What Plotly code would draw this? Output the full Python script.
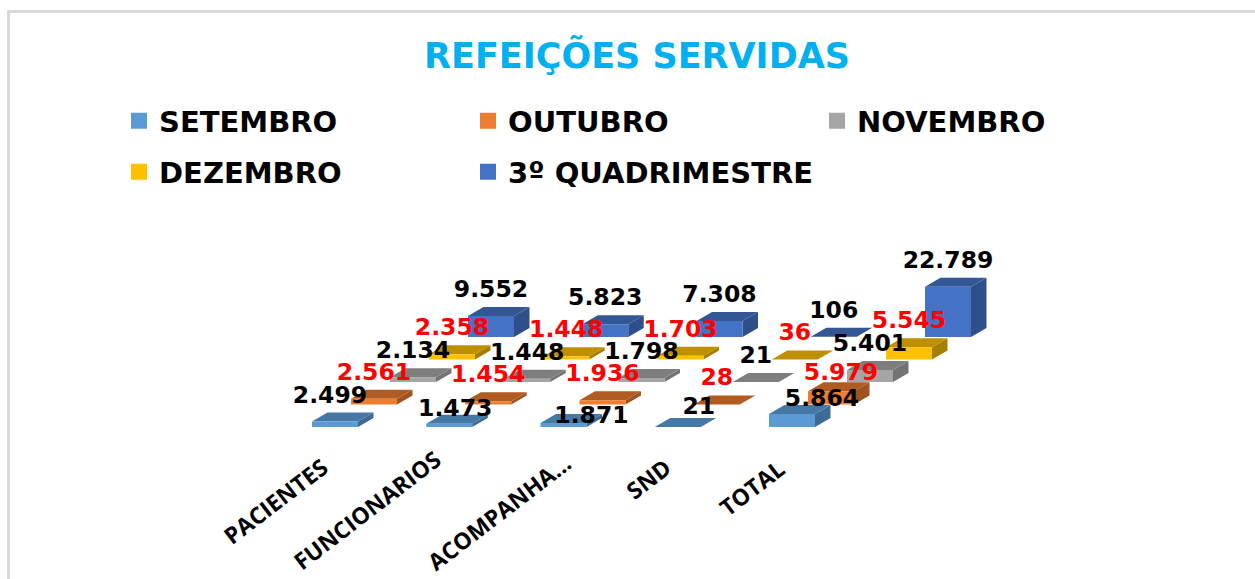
import math
import plotly.graph_objects as go

CATEGORIES = ["PACIENTES", "FUNCIONARIOS", "ACOMPANHA...", "SND", "TOTAL"]
SERIES = ["SETEMBRO", "OUTUBRO", "NOVEMBRO", "DEZEMBRO", "3º QUADRIMESTRE"]
SETEMBRO = [2499, 1473, 1871, 21, 5864]
OUTUBRO = [2561, 1454, 1936, 28, 5979]
NOVEMBRO = [2134, 1448, 1798, 21, 5401]
DEZEMBRO = [2358, 1448, 1703, 36, 5545]
QUADRIMESTRE = [9552, 5823, 7308, 106, 22789]
VALUES = [SETEMBRO, OUTUBRO, NOVEMBRO, DEZEMBRO, QUADRIMESTRE]

FRONT = ["#5B9BD5", "#ED7D31", "#A5A5A5", "#FFC000", "#4472C4"]
TOP = ["#4678A5", "#B05B22", "#7E7E7E", "#BE9000", "#335694"]
SIDE = ["#3C6A93", "#A0531E", "#737373", "#A67E00", "#2F4F8A"]
LABEL_COLOR = ["#000000", "#FF0000", "#000000", "#FF0000", "#000000"]

W, H = 1255, 579
PX_PER_CAT = 114.25
PX_PER_VALUE = 0.0022
ORIGIN_X, ORIGIN_Y = 335, 427
STEP_X, STEP_Y = 39 / PX_PER_CAT, 22.5 / PX_PER_VALUE
BAR_W = 46 / PX_PER_CAT
DEPTH_X, DEPTH_Y = 15.5 / PX_PER_CAT, 9 / PX_PER_VALUE

# label shifts in px from the top centre of the bar's front face (default 0, 25)
LABEL_SHIFT = {(0, 0): (-5, 24), (0, 1): (6, 14), (0, 2): (28, 6), (0, 3): (21, 19),
               (0, 4): (30, 14), (1, 4): (10, 17)}

CAT_LABEL_LEN = [135, 193, 185, 58, 92]
CAT_LABEL_END = [(-6, -33), (-6, -24), (9, -29), (-7, -34), (-4, -33)]
ANGLE = 37.5


def face_traces(s):
    vals = VALUES[s]
    fx, fy, tx, ty, sx, sy = [], [], [], [], [], []
    for i, v in enumerate(vals):
        x0 = i + s * STEP_X - BAR_W / 2
        x1 = x0 + BAR_W
        y0 = s * STEP_Y
        y1 = y0 + v
        fx += [x0, x1, x1, x0, x0, None]
        fy += [y0, y0, y1, y1, y0, None]
        tx += [x0, x1, x1 + DEPTH_X, x0 + DEPTH_X, x0, None]
        ty += [y1, y1, y1 + DEPTH_Y, y1 + DEPTH_Y, y1, None]
        sx += [x1, x1 + DEPTH_X, x1 + DEPTH_X, x1, x1, None]
        sy += [y0, y0 + DEPTH_Y, y1 + DEPTH_Y, y1, y0, None]
    out = []
    for xs, ys, c in ((sx, sy, SIDE[s]), (tx, ty, TOP[s]), (fx, fy, FRONT[s])):
        out.append(go.Scatter(x=xs, y=ys, mode="lines", fill="toself", fillcolor=c,
                              line=dict(width=0, color=c), showlegend=False, hoverinfo="skip"))
    return out


fig = go.Figure()
for s in range(len(SERIES)):
    fig.add_trace(go.Scatter(x=[None], y=[None], mode="markers", name=SERIES[s],
                             marker=dict(symbol="square", size=16, color=FRONT[s]),
                             legend="legend" if s < 3 else "legend2"))
for s in reversed(range(len(SERIES))):
    for t in face_traces(s):
        fig.add_trace(t)
for s in range(len(SERIES)):
    xs, ys, txt = [], [], []
    for i, v in enumerate(VALUES[s]):
        dx, dy = LABEL_SHIFT.get((s, i), (0, 25))
        xs.append(i + s * STEP_X + dx / PX_PER_CAT)
        ys.append(s * STEP_Y + v + dy / PX_PER_VALUE)
        txt.append(f"{v:,}".replace(",", "."))
    fig.add_trace(go.Scatter(x=xs, y=ys, mode="text", text=txt, textposition="middle center",
                             textfont=dict(family="DejaVu Sans", size=23.5, color=LABEL_COLOR[s], weight=700),
                             showlegend=False, hoverinfo="skip"))

annotations = []
for i, name in enumerate(CATEGORIES):
    ex, ey = CAT_LABEL_END[i]
    half = CAT_LABEL_LEN[i] / 2
    annotations.append(dict(
        x=i, y=0, xref="x", yref="y", text=name, showarrow=False, textangle=-ANGLE,
        xanchor="center", yanchor="middle",
        xshift=ex - half * math.cos(math.radians(ANGLE)),
        yshift=ey - half * math.sin(math.radians(ANGLE)),
        font=dict(family="Open Sans", size=23, color="#000000", weight=700)))

legend_common = dict(orientation="h", xanchor="left", yanchor="middle", x=119 / W,
                     entrywidth=304, entrywidthmode="pixels", itemclick=False, itemdoubleclick=False,
                     bgcolor="rgba(0,0,0,0)", borderwidth=0,
                     font=dict(family="DejaVu Sans", size=29, color="#000000", weight=700))

fig.update_layout(
    width=W, height=H, margin=dict(l=0, r=0, t=0, b=0),
    paper_bgcolor="#FFFFFF", plot_bgcolor="#FFFFFF",
    title=dict(text="REFEIÇÕES SERVIDAS", x=637 / W, y=1 - 56 / H, xanchor="center", yanchor="middle",
               font=dict(family="DejaVu Sans", size=35, color="#00B0F0", weight=700)),
    legend=dict(y=1 - 121 / H, **legend_common),
    legend2=dict(y=1 - 172 / H, **legend_common),
    xaxis=dict(range=[-ORIGIN_X / PX_PER_CAT, (W - ORIGIN_X) / PX_PER_CAT], visible=False, fixedrange=True),
    yaxis=dict(range=[(ORIGIN_Y - H) / PX_PER_VALUE, ORIGIN_Y / PX_PER_VALUE], visible=False, fixedrange=True),
    annotations=annotations,
    shapes=[
        dict(type="line", xref="paper", yref="paper", x0=8 / W, x1=1, y0=1 - 11.5 / H, y1=1 - 11.5 / H,
             line=dict(color="#D9D9D9", width=3)),
        dict(type="line", xref="paper", yref="paper", x0=8.5 / W, x1=8.5 / W, y0=0, y1=1 - 10 / H,
             line=dict(color="#D9D9D9", width=3)),
    ],
)
fig.write_html("out.html", config={"displayModeBar": False},
               post_script="document.body.style.margin='0';document.documentElement.style.overflow='hidden';")
